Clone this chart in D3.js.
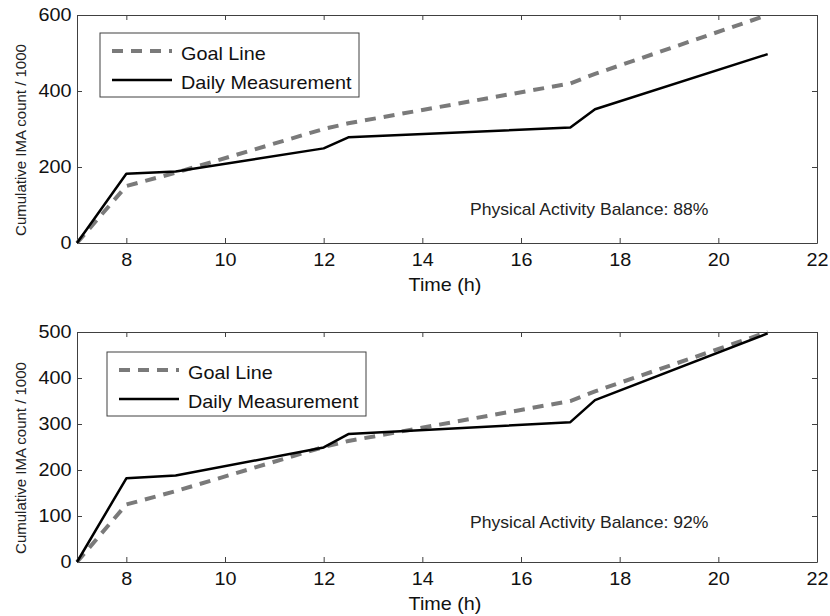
<!DOCTYPE html>
<html>
<head>
<meta charset="utf-8">
<script src="https://cdn.jsdelivr.net/npm/d3@7"></script>
<style>
body { margin: 0; background: #fff; }
svg { font-family: "Liberation Sans", Arial, sans-serif; }
.axis path, .axis line { stroke: #404040; stroke-width: 1; }
.axis text { fill: #111; font-size: 18px; }
</style>
</head>
<body>
<svg id="chart" width="830" height="616"></svg>
<script>
// hours of day where the curves bend
var hours = [7, 8, 9, 12, 12.5, 17, 17.5, 21];
// top panel
var goalTop = [0, 150, 185, 300, 315, 420, 445, 600];
var dailyTop = [0, 182, 188, 249, 278, 304, 352, 497];
// bottom panel
var goalBottom = [0, 125, 154, 250, 263, 350, 371, 500];
var dailyBottom = [0, 182, 188, 249, 278, 304, 352, 497];

var xTicks = [8, 10, 12, 14, 16, 18, 20, 22];
var yTicksTop = [0, 200, 400, 600];
var yTicksBottom = [0, 100, 200, 300, 400, 500];
var balanceTop = "Physical Activity Balance: 88%";
var balanceBottom = "Physical Activity Balance: 92%";

var svg = d3.select("#chart");
var left = 77, right = 817;
var sx = 1.1; // the source figure text is a bit wide

function label(g, x, y, size, txt)
{
	return g.append("text")
		.attr("transform", "translate(" + x + "," + y + ") scale(" + sx + ",1)")
		.style("font-size", size + "px")
		.attr("fill", "#111")
		.text(txt);
}

function panel(top, bottom, yMax, yTicks, goal, daily, balance, legendBox)
{
	var x = d3.scaleLinear().domain([7, 22]).range([left, right]);
	var y = d3.scaleLinear().domain([0, yMax]).range([bottom, top]);
	var g = svg.append("g");

	// box + inward ticks, matlab style
	g.append("g").attr("class", "axis")
		.attr("transform", "translate(0," + bottom + ")")
		.call(d3.axisBottom(x).tickValues(xTicks).tickSizeInner(-5).tickSizeOuter(0).tickPadding(10));
	g.append("g").attr("class", "axis")
		.attr("transform", "translate(0," + top + ")")
		.call(d3.axisTop(x).tickValues(xTicks).tickSizeInner(-5).tickSizeOuter(0).tickFormat(""));
	g.append("g").attr("class", "axis")
		.attr("transform", "translate(" + left + ",0)")
		.call(d3.axisLeft(y).tickValues(yTicks).tickSizeInner(-5).tickSizeOuter(0).tickPadding(5));
	g.append("g").attr("class", "axis")
		.attr("transform", "translate(" + right + ",0)")
		.call(d3.axisRight(y).tickValues(yTicks).tickSizeInner(-5).tickSizeOuter(0).tickFormat(""));
	g.selectAll(".axis text").attr("transform", "scale(" + sx + ",1)");

	var line = d3.line()
		.x(function(d, i) { return x(hours[i]); })
		.y(function(d) { return y(d); });

	g.append("path")
		.attr("d", line(goal))
		.attr("fill", "none")
		.attr("stroke", "#7a7a7a")
		.attr("stroke-width", 4)
		.attr("stroke-dasharray", "11,8");

	g.append("path")
		.attr("d", line(daily))
		.attr("fill", "none")
		.attr("stroke", "#000")
		.attr("stroke-width", 2.5)
		.attr("stroke-linejoin", "round");

	label(g, 470, y(75), 16, balance).attr("fill", "#222");

	label(g, 445, bottom + 48, 18, "Time (h)").attr("text-anchor", "middle");

	g.append("text")
		.attr("transform", "translate(26," + ((top + bottom) / 2 + 11) + ") rotate(-90)")
		.attr("text-anchor", "middle")
		.style("font-size", "15px")
		.attr("fill", "#222")
		.text("Cumulative IMA count / 1000");

	// legend
	var lx = legendBox[0], ly = legendBox[1];
	g.append("rect")
		.attr("x", lx).attr("y", ly)
		.attr("width", 259).attr("height", 64)
		.attr("fill", "#fff")
		.attr("stroke", "#404040")
		.attr("stroke-width", 1);
	g.append("line")
		.attr("x1", lx + 12).attr("x2", lx + 72)
		.attr("y1", ly + 18).attr("y2", ly + 18)
		.attr("stroke", "#7a7a7a").attr("stroke-width", 4)
		.attr("stroke-dasharray", "11,8");
	g.append("line")
		.attr("x1", lx + 12).attr("x2", lx + 72)
		.attr("y1", ly + 47).attr("y2", ly + 47)
		.attr("stroke", "#000").attr("stroke-width", 2.5);
	label(g, lx + 81, ly + 27, 18, "Goal Line");
	label(g, lx + 81, ly + 56, 18, "Daily Measurement");
}

panel(15, 243, 600, yTicksTop, goalTop, dailyTop, balanceTop, [100, 33]);
panel(332, 562, 500, yTicksBottom, goalBottom, dailyBottom, balanceBottom, [107, 352]);
</script>
</body>
</html>
